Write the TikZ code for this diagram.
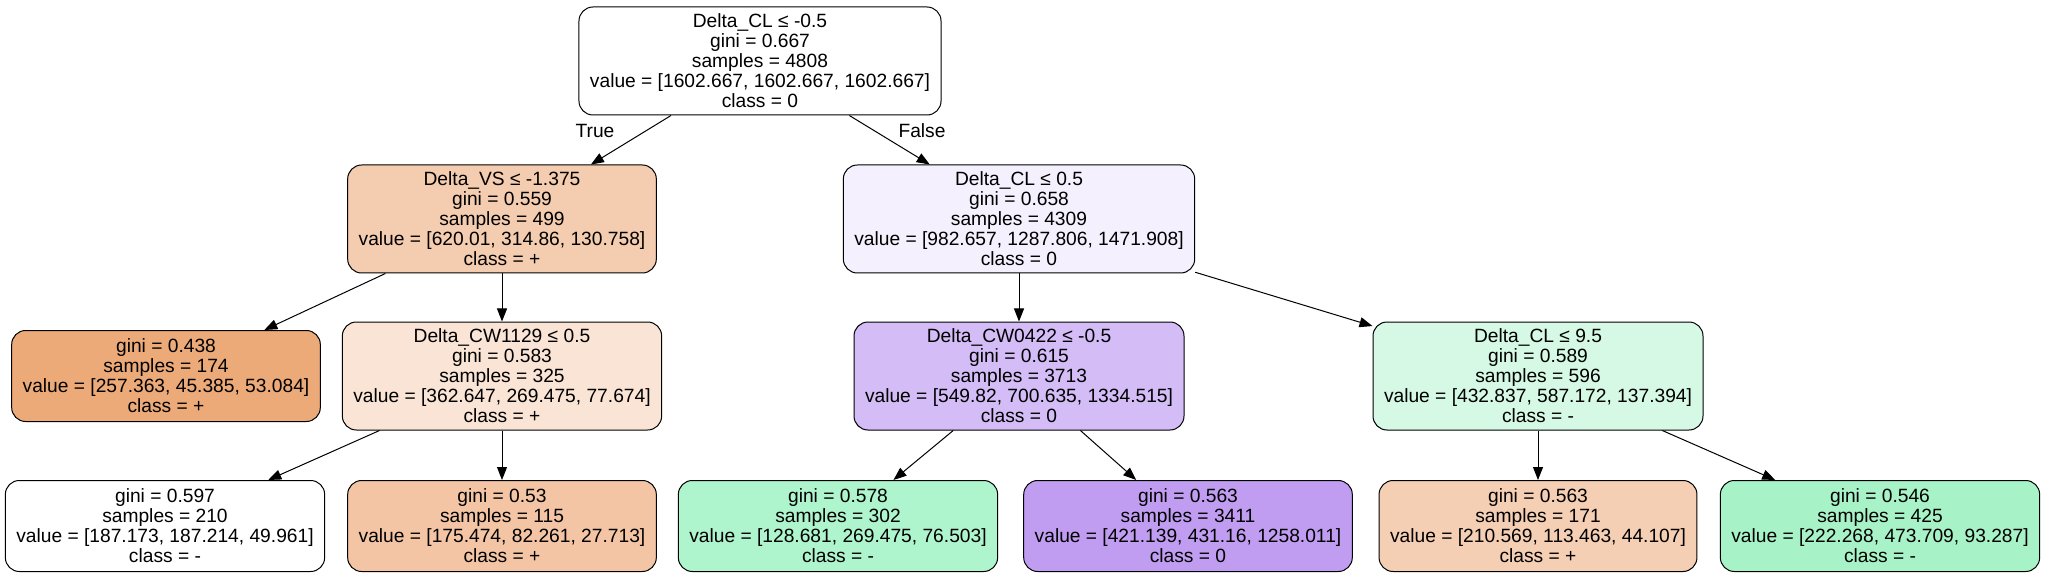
\documentclass[tikz,border=0pt]{standalone}
\usepackage{fontspec}
\setmainfont{Liberation Sans}
\usetikzlibrary{arrows.meta}
% node fills
\definecolor{plusA}{HTML}{F4CCAF}
\definecolor{plusB}{HTML}{EDAA79}
\definecolor{plusC}{HTML}{F9E4D5}
\definecolor{plusD}{HTML}{F3C5A4}
\definecolor{plusE}{HTML}{F5CFB3}
\definecolor{zeroA}{HTML}{F5F0FD}
\definecolor{zeroB}{HTML}{D4BCF6}
\definecolor{zeroC}{HTML}{C19DF2}
\definecolor{minusA}{HTML}{D5F9E4}
\definecolor{minusB}{HTML}{AEF4CC}
\definecolor{minusC}{HTML}{A7F3C7}

\begin{document}
\begin{tikzpicture}[x=0.5pt, y=-0.5pt,
  box/.style={draw, line width=0.5pt, rounded corners=7pt, align=center,
    inner xsep=5.5pt, inner ysep=1pt, font=\fontsize{9.6}{10}\selectfont},
  split/.style={box, minimum height=54pt},
  leaf/.style={box, minimum height=45.5pt},
  edge/.style={-{Triangle[length=6.5pt,width=5pt]}, line width=0.5pt}]
\useasboundingbox (0,0) rectangle (2045,577);

% depth 0
\node[split, fill=white] (root) at (760,61)
  {Delta\_CL ≤ -0.5\\gini = 0.667\\samples = 4808\\value = [1602.667, 1602.667, 1602.667]\\class = 0};

% depth 1
\node[split, fill=plusA] (vs) at (502,219)
  {Delta\_VS ≤ -1.375\\gini = 0.559\\samples = 499\\value = [620.01, 314.86, 130.758]\\class = +};
\node[split, fill=zeroA] (clA) at (1019,219)
  {Delta\_CL ≤ 0.5\\gini = 0.658\\samples = 4309\\value = [982.657, 1287.806, 1471.908]\\class = 0};

% depth 2
\node[leaf, fill=plusB] (lfA) at (166,376)
  {gini = 0.438\\samples = 174\\value = [257.363, 45.385, 53.084]\\class = +};
\node[split, fill=plusC] (cwA) at (502,376)
  {Delta\_CW1129 ≤ 0.5\\gini = 0.583\\samples = 325\\value = [362.647, 269.475, 77.674]\\class = +};
\node[split, fill=zeroB] (cwB) at (1019,376)
  {Delta\_CW0422 ≤ -0.5\\gini = 0.615\\samples = 3713\\value = [549.82, 700.635, 1334.515]\\class = 0};
\node[split, fill=minusA] (clB) at (1538,376)
  {Delta\_CL ≤ 9.5\\gini = 0.589\\samples = 596\\value = [432.837, 587.172, 137.394]\\class = -};

% depth 3
\node[leaf, fill=white] (lfB) at (165,526)
  {gini = 0.597\\samples = 210\\value = [187.173, 187.214, 49.961]\\class = -};
\node[leaf, fill=plusD] (lfC) at (502,526)
  {gini = 0.53\\samples = 115\\value = [175.474, 82.261, 27.713]\\class = +};
\node[leaf, fill=minusB] (lfD) at (838,526)
  {gini = 0.578\\samples = 302\\value = [128.681, 269.475, 76.503]\\class = -};
\node[leaf, fill=zeroC] (lfE) at (1188,526)
  {gini = 0.563\\samples = 3411\\value = [421.139, 431.16, 1258.011]\\class = 0};
\node[leaf, fill=plusE] (lfF) at (1538,526)
  {gini = 0.563\\samples = 171\\value = [210.569, 113.463, 44.107]\\class = +};
\node[leaf, fill=minusC] (lfG) at (1880,526)
  {gini = 0.546\\samples = 425\\value = [222.268, 473.709, 93.287]\\class = -};

\draw[edge] (root) -- (vs);
\draw[edge] (root) -- (clA);
\draw[edge] (vs) -- (lfA);
\draw[edge] (vs) -- (cwA);
\draw[edge] (clA) -- (cwB);
\draw[edge] (clA) -- (clB);
\draw[edge] (cwA) -- (lfB);
\draw[edge] (cwA) -- (lfC);
\draw[edge] (cwB) -- (lfD);
\draw[edge] (cwB) -- (lfE);
\draw[edge] (clB) -- (lfF);
\draw[edge] (clB) -- (lfG);

\node[font=\fontsize{9.6}{10}\selectfont] (lblT) at (595,131) {True};
\node[font=\fontsize{9.6}{10}\selectfont] (lblF) at (922,131) {False};

\end{tikzpicture}
\end{document}
